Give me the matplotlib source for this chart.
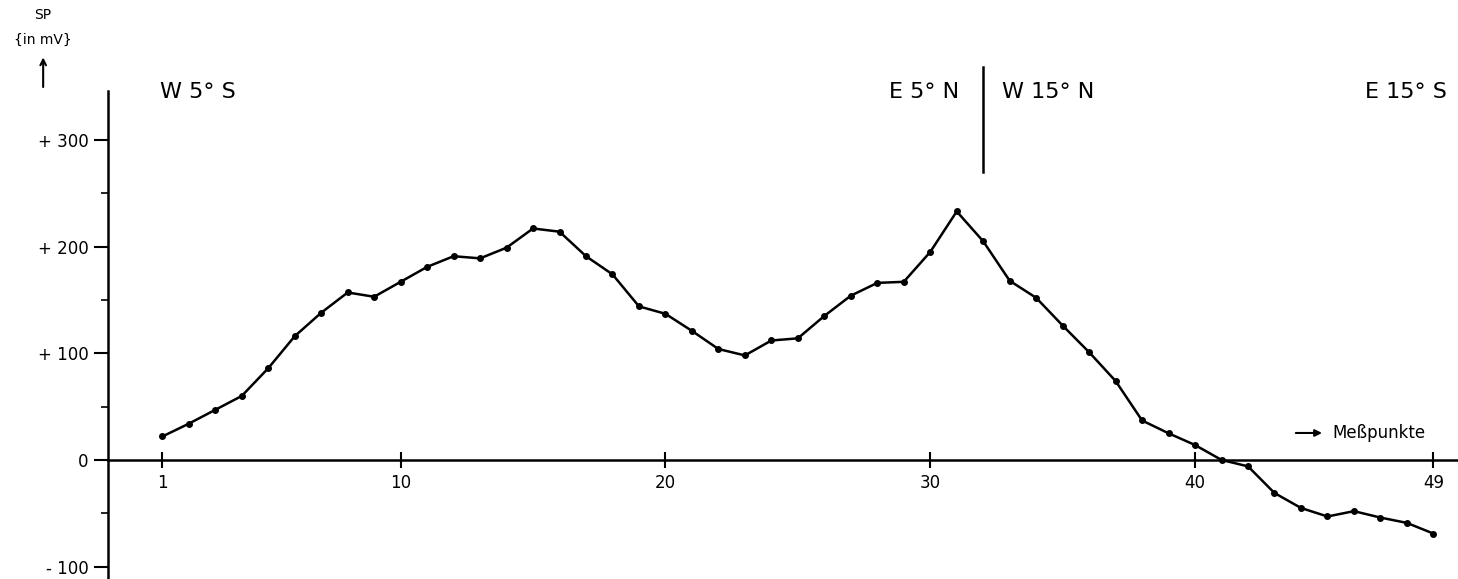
import numpy as np
import matplotlib
matplotlib.use("Agg")
import matplotlib.pyplot as plt
from matplotlib.ticker import FixedLocator

# measuring points and SP values (mV)
points = np.arange(1, 50)
sp = [22, 34, 47, 60, 86, 116, 138, 157, 153, 167,
      181, 191, 189, 199, 217, 214, 191, 174, 144, 137,
      121, 104, 98, 112, 114, 135, 154, 166, 167, 195,
      233, 205, 168, 152, 126, 101, 74, 37, 25, 14,
      0, -6, -31, -45, -53, -48, -54, -59, -69]

x_ticks = [1, 10, 20, 30, 40, 49]
y_ticks = [-100, 0, 100, 200, 300]
y_minor = [-50, 50, 150, 250]
y_labels = ["- 100", "0", "+ 100", "+ 200", "+ 300"]

# profile sections
sections = ["W 5° S", "E 5° N", "W 15° N", "E 15° S"]
section_x = [0.9, 31.1, 32.7, 49.5]
section_ha = ["left", "right", "left", "right"]
divider_x = 32.0

plt.rcParams['font.family'] = ['DejaVu Sans']

fig = plt.figure(figsize=(14.58, 5.79), dpi=100)
ax = fig.add_axes([0, 0, 1, 1])
ax.set_xlim(-5.13, 49.93)
ax.set_ylim(-111.6, 431.2)

ax.plot(points, sp, color='black', lw=1.8, marker='o', ms=4)

# axes drawn like the original sketch
for s in ['top', 'right']:
    ax.spines[s].set_visible(False)
ax.spines['left'].set_position(('data', -1.05))
ax.spines['left'].set_bounds(-111.6, 346)
ax.spines['bottom'].set_position(('data', 0))
ax.spines['bottom'].set_bounds(-1.05, 49.93)
ax.spines['left'].set_linewidth(1.8)
ax.spines['bottom'].set_linewidth(1.8)

ax.set_xticks(x_ticks)
ax.set_xticklabels([str(t) for t in x_ticks])
ax.set_yticks(y_ticks)
ax.set_yticklabels(y_labels)
ax.yaxis.set_minor_locator(FixedLocator(y_minor))
ax.tick_params(axis='x', direction='inout', length=12, width=1.5, labelsize=12, pad=4)
ax.tick_params(axis='y', which='major', direction='out', length=10, width=1.5, labelsize=12, pad=4)
ax.tick_params(axis='y', which='minor', direction='out', length=5, width=1.2)

for lab, xs, ha in zip(sections, section_x, section_ha):
    ax.text(xs, 345, lab, ha=ha, va='center', fontsize=16)
ax.plot([divider_x, divider_x], [270, 368], color='black', lw=1.8)

# y-axis title with arrow
ax.text(-3.5, 417, "SP", ha='center', va='center', fontsize=10)
ax.text(-3.5, 394, "{in mV}", ha='center', va='center', fontsize=10)
ax.annotate("", xy=(-3.5, 380), xytext=(-3.5, 347),
            arrowprops=dict(arrowstyle='->', color='black', lw=1.5))

# x-axis title with arrow
ax.annotate("", xy=(44.9, 25.3), xytext=(43.7, 25.3),
            arrowprops=dict(arrowstyle='-|>', color='black', lw=1.5))
ax.text(45.2, 25.3, "Meßpunkte", ha='left', va='center', fontsize=12)

fig.savefig("out.png", dpi=100)
